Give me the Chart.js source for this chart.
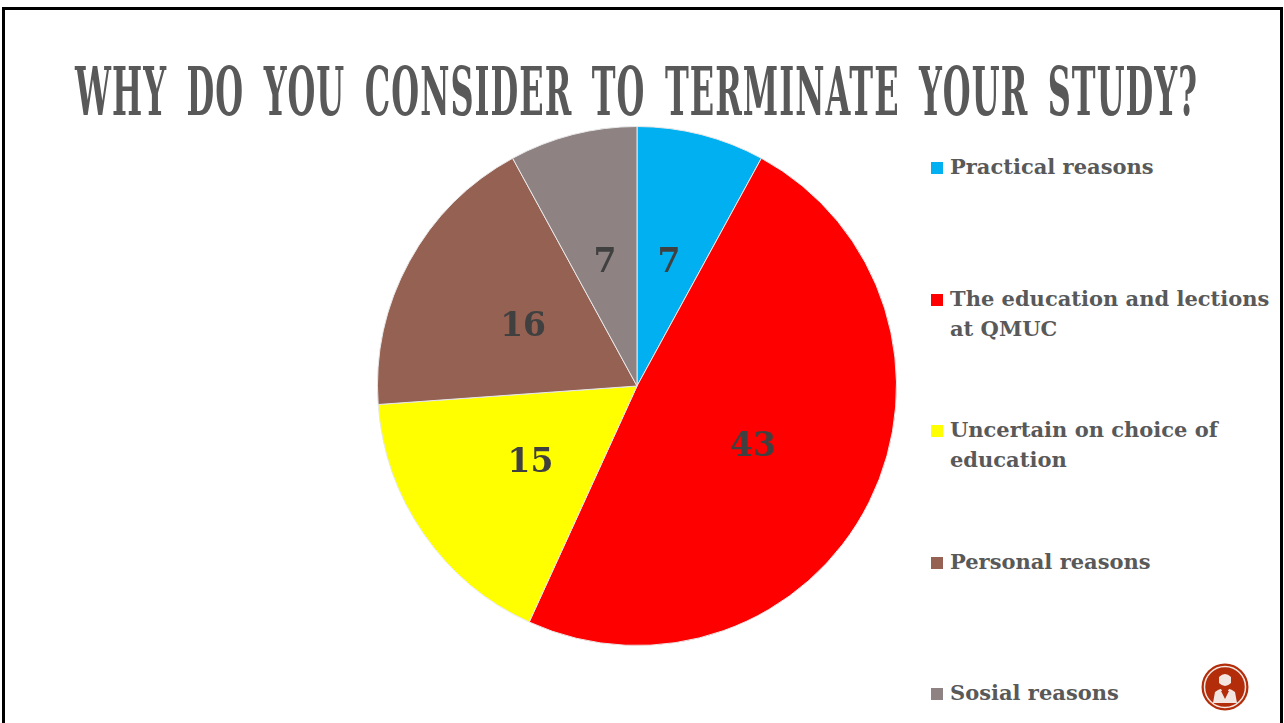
<!DOCTYPE html>
<html>
<head>
<meta charset="utf-8">
<script src="https://cdn.jsdelivr.net/npm/chart.js@4.4.1/dist/chart.umd.min.js"></script>
<style>
  html, body { margin: 0; padding: 0; background: #fff; }
  body { width: 1284px; height: 723px; position: relative; overflow: hidden; font-family: "DejaVu Serif", serif; }
  #frame { position: absolute; left: 2px; top: 7px; width: 1275px; height: 740px; border: 3px solid #000; border-bottom: none; }
  #title { position: absolute; left: 75px; top: 57px; white-space: nowrap; font-family: "DejaVu Serif Condensed", "DejaVu Serif", serif; font-weight: bold; font-size: 68px; line-height: 68px; letter-spacing: 2px; word-spacing: 14px; color: #595959; transform-origin: 0 0; }
  #pieBox { position: absolute; left: 377px; top: 126px; width: 520px; height: 520px; }
  .item { position: absolute; left: 950px; width: 330px; font-weight: bold; font-size: 21px; line-height: 30px; color: #595959; }
  .item i { position: absolute; left: -19px; top: 10px; width: 12px; height: 12px; }
  #logo { position: absolute; left: 1201px; top: 663px; width: 48px; height: 48px; }
</style>
</head>
<body>
<div id="frame"></div>
<div id="title">WHY DO YOU CONSIDER TO TERMINATE YOUR STUDY?</div>
<div id="pieBox"><canvas id="pie"></canvas></div>
<div id="legend"></div>
<svg id="logo" viewBox="0 0 48 48">
  <circle cx="24" cy="24" r="23.5" fill="#b32d0a"/>
  <circle cx="24" cy="24" r="20.5" fill="none" stroke="#f3e6e0" stroke-width="1.5"/>
  <path d="M18 14 Q24 8 30 14 L30 20 Q24 26 18 20 Z" fill="#f3e6e0"/>
  <path d="M12 40 L14 29 Q18 26 20 26 L24 33 L28 26 Q30 26 34 29 L36 40 Z" fill="#f3e6e0"/>
  <path d="M20 28 L24 36 L28 28 Z" fill="#b32d0a"/>
</svg>
<script>
const reasons = ['Practical reasons', 'The education and lections at QMUC', 'Uncertain on choice of education', 'Personal reasons', 'Sosial reasons'];
const counts = [7, 43, 15, 16, 7];
const sliceColors = ['#00b0f0', '#ff0000', '#ffff00', '#946152', '#8f8282'];

// squeeze the heading into the width of the slide
const title = document.getElementById('title');
title.style.transform = 'scaleX(' + (1123 / title.getBoundingClientRect().width) + ')';

// numbers in the middle of each slice
const sliceLabels = {
  id: 'sliceLabels',
  afterDatasetsDraw(chart) {
    const ctx = chart.ctx;
    const meta = chart.getDatasetMeta(0);
    ctx.save();
    ctx.font = 'bold 33px "DejaVu Serif"';
    ctx.fillStyle = '#404040';
    ctx.textAlign = 'center';
    ctx.textBaseline = 'alphabetic';
    meta.data.forEach((arc, i) => {
      const p = arc.tooltipPosition();
      ctx.fillText(String(chart.data.datasets[0].data[i]), p.x, p.y + 12);
    });
    ctx.restore();
  }
};

const chart = new Chart(document.getElementById('pie'), {
  type: 'pie',
  data: {
    labels: reasons,
    datasets: [{
      data: counts,
      backgroundColor: sliceColors,
      borderColor: '#e8e8e8',
      borderWidth: 1
    }]
  },
  options: {
    responsive: true,
    maintainAspectRatio: false,
    devicePixelRatio: 1,
    animation: false,
    layout: { padding: 0 },
    plugins: {
      legend: { display: false },
      tooltip: { enabled: false }
    }
  },
  plugins: [sliceLabels]
});

// legend on the right, one entry per slice
const legend = document.getElementById('legend');
chart.data.labels.forEach((label, i) => {
  const div = document.createElement('div');
  div.className = 'item';
  div.style.top = (152 + i * 131.5) + 'px';
  div.innerHTML = '<i style="background:' + sliceColors[i] + '"></i>' + label;
  legend.appendChild(div);
});
</script>
</body>
</html>
